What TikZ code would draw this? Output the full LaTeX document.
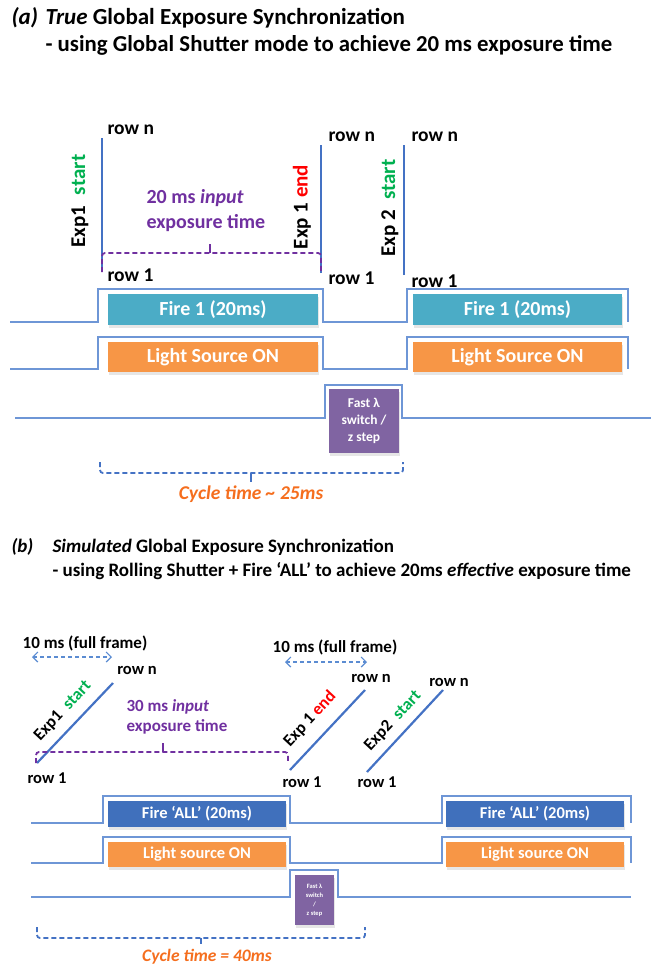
\documentclass[tikz,border=0pt]{standalone}
\usepackage{fontspec}
\setmainfont{Carlito}
\usetikzlibrary{arrows.meta, calc, shadows}
\usepackage{xcolor}
\definecolor{expblue}{RGB}{68,114,196}
\definecolor{wavblue}{RGB}{110,150,214}
\definecolor{fireteal}{RGB}{75,172,198}
\definecolor{fireblue}{RGB}{64,112,188}
\definecolor{lightorange}{RGB}{247,150,70}
\definecolor{switchpurple}{RGB}{128,100,162}
\definecolor{txtpurple}{RGB}{112,48,160}
\definecolor{startgreen}{RGB}{0,176,80}
\definecolor{endred}{RGB}{255,0,0}
\definecolor{cycleorange}{RGB}{245,110,30}
\definecolor{arrowblue}{RGB}{91,140,210}

\tikzset{
  wave/.style={draw=wavblue, line width=1.4pt},
  expline/.style={draw=expblue, line width=2.6pt},
  sigbox/.style={text=white, font=\bfseries\fontsize{20}{23}\selectfont, inner sep=0pt,
    drop shadow={shadow xshift=1pt, shadow yshift=-3pt, opacity=0.2}},
  rowtxt/.style={font=\bfseries\fontsize{19.5}{22}\selectfont},
  rowtxtb/.style={font=\bfseries\fontsize{16.5}{19}\selectfont},
  exptxt/.style={font=\bfseries\fontsize{21}{24}\selectfont},
  exptxtb/.style={font=\bfseries\fontsize{17}{20}\selectfont},
  bracket/.style={dashed, line width=1.8pt, dash pattern=on 5pt off 3pt, rounded corners=3pt},
}

\begin{document}
\begin{tikzpicture}[x=1pt, y=-1pt, >=stealth]
  \useasboundingbox (0,0) rectangle (651,970);

  % (a) true global exposure
  \node[anchor=base west, font=\bfseries\itshape\fontsize{23}{27}\selectfont] (ta) at (8,24) {(a)};
  \node[anchor=base west, font=\bfseries\fontsize{23}{27}\selectfont] (ta1) at (42,24) {\textit{True} Global Exposure Synchronization};
  \node[anchor=base west, font=\bfseries\fontsize{22.8}{27}\selectfont] (ta2) at (42,51) {- using Global Shutter mode to achieve 20 ms exposure time};

  \coordinate (E1b) at (102,272);
  \coordinate (E1t) at (102,138);
  \coordinate (E2b) at (321,273);
  \coordinate (E2t) at (321,145);
  \coordinate (E3b) at (404,275);
  \coordinate (E3t) at (404,145);
  \draw[expline] (E1b) -- (E1t);
  \draw[expline] (E2b) -- (E2t);
  \draw[expline] (E3b) -- (E3t);

  \node[rowtxt, anchor=west] at (104,130) {row n};
  \node[rowtxt, anchor=west] at (104,275) {row 1};
  \node[rowtxt, anchor=west] at (325,137) {row n};
  \node[rowtxt, anchor=west] at (325,278) {row 1};
  \node[rowtxt, anchor=west] at (408,137) {row n};
  \node[rowtxt, anchor=west] at (408,281) {row 1};

  \node[exptxt, rotate=90] at (80,201) {Exp1\enspace\textcolor{startgreen}{start}};
  \node[exptxt, rotate=90] at (302,207) {Exp 1 \textcolor{endred}{end}};
  \node[exptxt, rotate=90] at (390,208) {Exp 2\enspace\textcolor{startgreen}{start}};

  \draw[bracket, draw=txtpurple] (E1b) -- (102,253) -- (321,253) -- (E2b);
  \draw[txtpurple, line width=1.8pt] (210,253) -- (210,244);
  \node[anchor=west, align=left, text=txtpurple, font=\bfseries\fontsize{20}{25}\selectfont] at (143,211) {20 ms \textit{input}\\exposure time};

  \draw[wave] (10,322) -- (98,322) -- (98,289) -- (323,289) -- (323,322) -- (407,322) -- (407,289) -- (628,289) -- (628,322);
  \draw[wave] (10,369) -- (98,369) -- (98,337) -- (323,337) -- (323,369) -- (407,369) -- (407,337) -- (628,337) -- (628,369);
  \draw[wave] (15,418) -- (325,418) -- (325,385) -- (402,385) -- (402,418) -- (651,418);

  \node[sigbox, fill=fireteal, minimum width=210, minimum height=31] (fire1) at (213,309.5) {Fire 1 (20ms)};
  \node[sigbox, fill=fireteal, minimum width=209, minimum height=31] (fire2) at (517.5,309.5) {Fire 1 (20ms)};
  \node[sigbox, fill=lightorange, minimum width=210, minimum height=30] (light1) at (213,357) {Light Source ON};
  \node[sigbox, fill=lightorange, minimum width=209, minimum height=30] (light2) at (517.5,357) {Light Source ON};
  \node[sigbox, fill=switchpurple, minimum width=70, minimum height=64, align=center,
    font=\bfseries\fontsize{13.5}{17}\selectfont] (fast1) at (364,421) {Fast λ\\switch /\\z step};

  \draw[bracket, draw=expblue] (100,462) -- (100,473) -- (403,473) -- (403,462);
  \draw[expblue, line width=1.8pt] (251,473) -- (251,482);
  \node[text=cycleorange, font=\bfseries\itshape\fontsize{19.5}{22}\selectfont] (cyc1) at (251,494) {Cycle time \textasciitilde{} 25ms};

  % (b) simulated global exposure
  \node[anchor=base west, font=\bfseries\itshape\fontsize{19}{23}\selectfont] (tb) at (8,552) {(b)};
  \node[anchor=base west, font=\bfseries\fontsize{19}{23}\selectfont] (tb1) at (49,552) {\textit{Simulated} Global Exposure Synchronization};
  \node[anchor=base west, font=\bfseries\fontsize{19}{23}\selectfont] (tb2) at (49,576) {- using Rolling Shutter + Fire ‘ALL’ to achieve 20ms \textit{effective} exposure time};

  \node[font=\bfseries\fontsize{17}{20}\selectfont] at (85,643) {10 ms (full frame)};
  \node[font=\bfseries\fontsize{17}{20}\selectfont] at (335,647) {10 ms (full frame)};
  \draw[arrowblue, line width=1.2pt, dash pattern=on 4pt off 3pt, {Straight Barb[length=5pt]}-{Straight Barb[length=5pt]}] (32,657) -- (112,657);
  \draw[arrowblue, line width=1.2pt, dash pattern=on 4pt off 3pt, {Straight Barb[length=5pt]}-{Straight Barb[length=5pt]}] (285,662) -- (367,662);

  \coordinate (S1b) at (37,763);
  \coordinate (S1t) at (113,683);
  \coordinate (S2b) at (290,770);
  \coordinate (S2t) at (365,690);
  \coordinate (S3b) at (367,772);
  \coordinate (S3t) at (443,690);
  \draw[expline, line width=2.2pt] (S1b) -- (S1t);
  \draw[expline, line width=2.2pt] (S2b) -- (S2t);
  \draw[expline, line width=2.2pt] (S3b) -- (S3t);

  \node[rowtxtb] at (137,670) {row n};
  \node[rowtxtb] at (371,678) {row n};
  \node[rowtxtb] at (449,682) {row n};
  \node[rowtxtb] at (47,778) {row 1};
  \node[rowtxtb] at (302,782) {row 1};
  \node[rowtxtb] at (377,782) {row 1};

  \node[exptxtb, rotate=47] at (63,711) {Exp1\enspace\textcolor{startgreen}{start}};
  \node[exptxtb, rotate=47] at (310,719) {Exp 1 \textcolor{endred}{end}};
  \node[exptxtb, rotate=47] at (393,721) {Exp2\enspace\textcolor{startgreen}{start}};

  \draw[bracket, draw=txtpurple] (36,763) -- (36,752) -- (288,752) -- (288,763);
  \draw[txtpurple, line width=1.8pt] (163,752) -- (163,743);
  \node[anchor=west, align=left, text=txtpurple, font=\bfseries\fontsize{17}{20}\selectfont] at (123,717) {30 ms \textit{input}\\exposure time};

  \draw[wave] (31,823) -- (103,823) -- (103,796) -- (290,796) -- (290,823) -- (442,823) -- (442,796) -- (631,796) -- (631,823);
  \draw[wave] (31,863) -- (103,863) -- (103,837) -- (290,837) -- (290,863) -- (442,863) -- (442,837) -- (631,837) -- (631,863);
  \draw[wave] (31,897) -- (290,897) -- (290,870) -- (338,870) -- (338,897) -- (631,897);

  \node[sigbox, fill=fireblue, font=\bfseries\fontsize{16.5}{20}\selectfont, minimum width=178, minimum height=26] (fire3) at (197,814) {Fire ‘ALL’ (20ms)};
  \node[sigbox, fill=fireblue, font=\bfseries\fontsize{16.5}{20}\selectfont, minimum width=178, minimum height=26] (fire4) at (535,814) {Fire ‘ALL’ (20ms)};
  \node[sigbox, fill=lightorange, font=\bfseries\fontsize{16.5}{20}\selectfont, minimum width=178, minimum height=25] (light3) at (197,854.5) {Light source ON};
  \node[sigbox, fill=lightorange, font=\bfseries\fontsize{16.5}{20}\selectfont, minimum width=178, minimum height=25] (light4) at (535,854.5) {Light source ON};
  \node[sigbox, fill=switchpurple, minimum width=39, minimum height=50, align=center,
    font=\bfseries\fontsize{6.5}{9}\selectfont] (fast2) at (314.5,900) {Fast λ\\switch\\/\\z step};

  \draw[bracket, draw=expblue] (37,927) -- (37,938) -- (365,938) -- (365,927);
  \draw[expblue, line width=1.8pt] (201,938) -- (201,944);
  \node[text=cycleorange, font=\bfseries\itshape\fontsize{17.5}{21}\selectfont] (cyc2) at (207,957) {Cycle time = 40ms};
\end{tikzpicture}
\end{document}
